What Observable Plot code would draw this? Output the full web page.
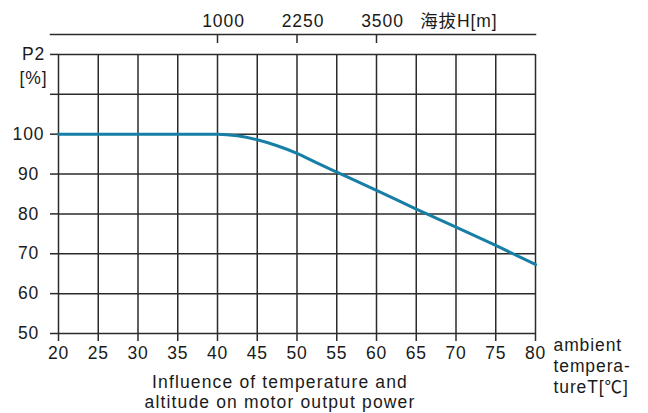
<!DOCTYPE html>
<html>
<head>
<meta charset="utf-8">
<script src="https://cdn.jsdelivr.net/npm/d3@7"></script>
<script src="https://cdn.jsdelivr.net/npm/@observablehq/plot@0.6"></script>
<style>
  html, body { margin: 0; padding: 0; background: #fff; }
  #chart svg { display: block; }
  #chart svg text { letter-spacing: 0.9px; }
  #chart svg g.caption text { letter-spacing: 1.15px; }
</style>
</head>
<body>
<div id="chart"></div>
<script>
// Data
const temperature = [20, 25, 30, 35, 40, 42.5, 45, 47.5, 50, 52.5, 55, 60, 65, 70, 75, 80];
const power = [100, 100, 100, 100, 100, 99.6, 98.6, 97.1, 95.2, 92.8, 90.5, 85.9, 81.2, 76.7, 72.1, 67.3];

const xTicks = [20, 25, 30, 35, 40, 45, 50, 55, 60, 65, 70, 75, 80];
const yTicks = [50, 60, 70, 80, 90, 100, 110, 120];
const yTickLabels = ["50", "60", "70", "80", "90", "100", "", ""];
const yUnitTicks = [120, 114];
const yUnitLabels = ["P2", "[%]"];
const altitudeTicks = [40, 50, 60];
const altitudeLabels = ["1000", "2250", "3500"];
const altitudeTitle = ["海拔H[m]"];
const xTitle = ["ambient\ntempera-\ntureT[℃]"];
const caption = ["Influence of temperature and\naltitude on motor output power"];

const xDomain = [20, 80];
const yDomain = [50, 125];
const gridBottom = 50, gridTop = 120;

const rows = temperature.map((t, i) => ({t, p: power[i]}));
const gridColor = "#2b2b2b";

const chart = Plot.plot({
  width: 648,
  height: 413,
  marginLeft: 58,
  marginRight: 113,
  marginTop: 34,
  marginBottom: 80,
  style: {fontFamily: "'Liberation Sans', Arial, 'Noto Sans CJK SC', sans-serif", fontSize: "17.5px", color: "#1a1a1a", background: "#fff"},
  x: {domain: xDomain, axis: null},
  y: {domain: yDomain, axis: null},
  marks: [
    Plot.ruleX(xTicks, {y1: gridBottom, y2: gridTop, stroke: gridColor, strokeWidth: 1.5}),
    Plot.ruleY(yTicks, {x1: xDomain[0], x2: xDomain[1], stroke: gridColor, strokeWidth: 1.5}),
    Plot.axisY(yTicks, {anchor: "left", tickSize: 8, tickPadding: 22, textAnchor: "middle", stroke: gridColor, strokeWidth: 1.5,
      tickFormat: d => yTickLabels[yTicks.indexOf(d)], label: null}),
    Plot.axisY(yUnitTicks, {anchor: "left", tickSize: 0, tickPadding: 25, textAnchor: "middle",
      tickFormat: d => yUnitLabels[yUnitTicks.indexOf(d)], label: null}),
    Plot.axisX(xTicks, {anchor: "bottom", tickSize: 8, tickPadding: 5, stroke: gridColor, strokeWidth: 1.5, label: null}),
    Plot.frame({anchor: "top", insetLeft: -8, stroke: gridColor, strokeWidth: 1.5}),
    Plot.axisX(altitudeTicks, {anchor: "top", tickSize: -8, stroke: gridColor, strokeWidth: 1.5, tickFormat: () => "", label: null}),
    Plot.axisX(altitudeTicks, {anchor: "top", tickSize: 0, tickPadding: 8, dx: 6,
      tickFormat: d => altitudeLabels[altitudeTicks.indexOf(d)], label: null}),
    Plot.text(altitudeTitle, {frameAnchor: "top-right", dx: -38, dy: -8, textAnchor: "end", lineAnchor: "bottom"}),
    Plot.line(rows, {x: "t", y: "p", stroke: "#177fa6", strokeWidth: 3, curve: "monotone-x"}),
    Plot.text(xTitle, {frameAnchor: "bottom-right", dx: 18, dy: 3, textAnchor: "start", lineAnchor: "top", lineHeight: 1.2}),
    Plot.text(caption, {frameAnchor: "bottom", dx: -17, dy: 40, textAnchor: "middle", lineAnchor: "top", lineHeight: 1.15, className: "caption"})
  ]
});
document.getElementById("chart").appendChild(chart);
</script>
</body>
</html>
